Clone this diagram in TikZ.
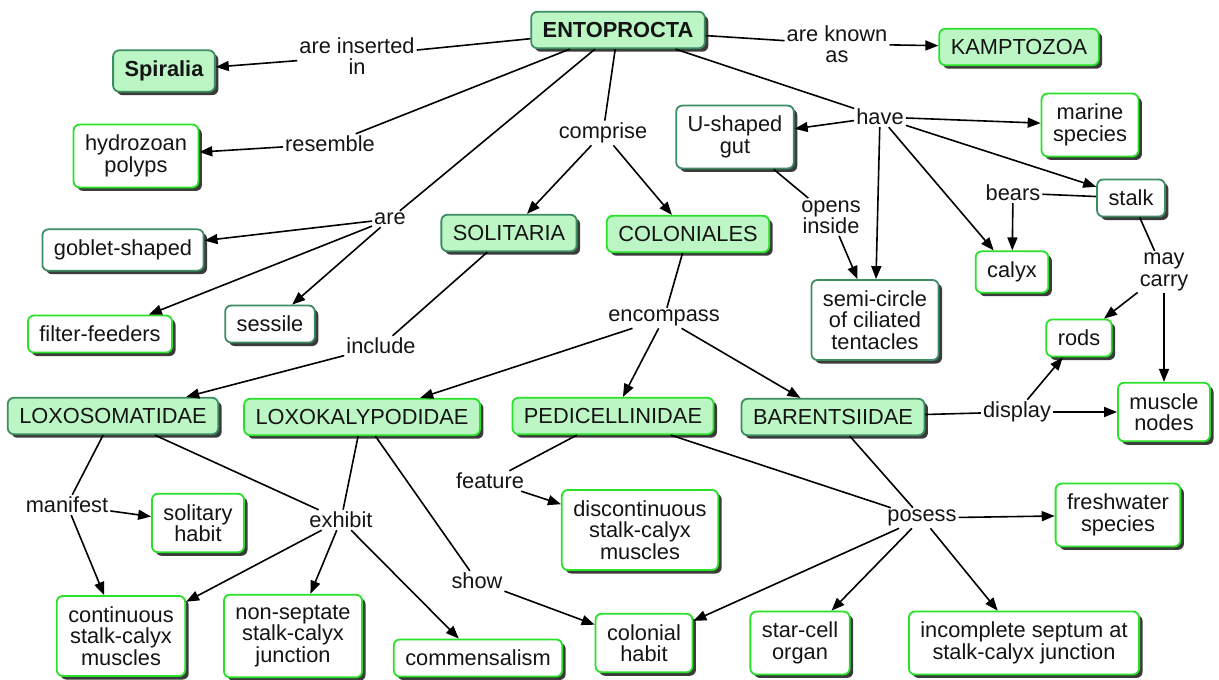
\documentclass[tikz,border=0pt]{standalone}
\usepackage{fontspec}
\setmainfont{Liberation Sans}
\usetikzlibrary{shadows,arrows.meta}
\definecolor{cfill}{RGB}{188,246,196}
\definecolor{cdark}{RGB}{60,140,100}
\definecolor{cbright}{RGB}{40,225,40}
\definecolor{ctext}{RGB}{20,20,20}
\newcommand{\mapfont}{\fontsize{21.8}{21.5}\selectfont}
\tikzset{
  base/.style={rounded corners=6pt, line width=1.8pt, inner xsep=11.5pt, inner ysep=10.5pt,
    align=center, font=\mapfont, text=ctext,
    drop shadow={shadow xshift=3.5pt, shadow yshift=-3.5pt, fill=black!85, opacity=0.9}},
  gfd/.style={base, fill=cfill, draw=cdark},
  gfb/.style={base, fill=cfill, draw=cbright},
  wb/.style={base, fill=white, draw=cbright},
  wd/.style={base, fill=white, draw=cdark},
  lab/.style={inner sep=2pt, align=center, font=\mapfont, text=ctext},
  arr/.style={-{Triangle[length=13pt,width=10pt]}, line width=1.6pt},
  ln/.style={line width=1.6pt}
}
\begin{document}
\begin{tikzpicture}[x=1pt,y=-1pt]
\useasboundingbox (0,0) rectangle (1219,680);
% concepts
\node[gfd,font=\mapfont\bfseries] (ento) at (618,30) {ENTOPROCTA};
\node[gfd,font=\mapfont\bfseries] (spir) at (164,71) {Spiralia};
\node[gfb] (kamp) at (1019,47) {KAMPTOZOA};
\node[wb] (hydro) at (136,156) {hydrozoan\\polyps};
\node[wd] (gut) at (735,137) {U-shaped\\gut};
\node[wb] (marine) at (1090,125) {marine\\species};
\node[wd] (stalk) at (1131,198) {stalk};
\node[wb] (calyx) at (1012,272) {calyx};
\node[wd] (goblet) at (123,250) {goblet-shaped};
\node[gfd] (soli) at (509,233) {SOLITARIA};
\node[gfb] (colo) at (688,234) {COLONIALES};
\node[wd] (semi) at (875,320) {semi-circle\\of ciliated\\tentacles};
\node[wb] (filter) at (100,334) {filter-feeders};
\node[wd] (sessile) at (270,324) {sessile};
\node[wb] (rods) at (1079,338) {rods};
\node[wb] (mnodes) at (1164,412) {muscle\\nodes};
\node[gfd] (loxo) at (113,416) {LOXOSOMATIDAE};
\node[gfb] (loxk) at (362,417) {LOXOKALYPODIDAE};
\node[gfb] (pedi) at (613,416) {PEDICELLINIDAE};
\node[gfd] (bare) at (833,417) {BARENTSIIDAE};
\node[wb] (solhab) at (198,523) {solitary\\habit};
\node[wb] (disc) at (640,530) {discontinuous\\stalk-calyx\\muscles};
\node[wb] (fresh) at (1118,515) {freshwater\\species};
\node[wb] (cont) at (121,636) {continuous\\stalk-calyx\\muscles};
\node[wb] (nonsep) at (293,636) {non-septate\\stalk-calyx\\junction};
\node[wb] (comm) at (478,658) {commensalism};
\node[wb] (colhab) at (644,643) {colonial\\habit};
\node[wb] (star) at (800,643) {star-cell\\organ};
\node[wb] (incomp) at (1024,643) {incomplete septum at\\stalk-calyx junction};
% linking phrases
\node[lab] (lins) at (357,56) {are inserted\\in};
\node[lab] (lknown) at (837,44) {are known\\as};
\node[lab] (lres) at (330,144) {resemble};
\node[lab] (lcomp) at (603,133) {comprise};
\node[lab] (lhave) at (880,117) {have};
\node[lab] (lare) at (390,219) {are};
\node[lab] (lbears) at (1013,193) {bears};
\node[lab] (lopens) at (831,217) {opens\\inside};
\node[lab] (lmay) at (1164,272) {may\\carry};
\node[lab] (lenc) at (664,318) {encompass};
\node[lab] (linc) at (381,346) {include};
\node[lab] (ldisp) at (1017,412) {display};
\node[lab] (lman) at (67,505) {manifest};
\node[lab] (lexh) at (341,520) {exhibit};
\node[lab] (lfeat) at (490,481) {feature};
\node[lab] (lpos) at (922,518) {posess};
\node[lab] (lshow) at (477,581) {show};
% connectors
\draw[ln] (ento) -- (lins); \draw[arr] (lins) -- (spir);
\draw[ln] (ento) -- (lknown); \draw[arr] (lknown) -- (kamp);
\draw[ln] (ento) -- (lres); \draw[arr] (lres) -- (hydro);
\draw[ln] (ento) -- (lcomp); \draw[arr] (lcomp) -- (soli); \draw[arr] (lcomp) -- (colo);
\draw[ln] (ento) -- (lhave);
\draw[arr] (lhave) -- (gut); \draw[arr] (lhave) -- (marine); \draw[arr] (lhave) -- (stalk);
\draw[arr] (lhave) -- (calyx); \draw[arr] (lhave) -- (semi);
\draw[ln] (ento) -- (lare);
\draw[arr] (lare) -- (goblet); \draw[arr] (lare) -- (filter); \draw[arr] (lare) -- (sessile);
\draw[ln] (stalk) -- (lbears); \draw[arr] (lbears) -- (calyx);
\draw[ln] (gut) -- (lopens); \draw[arr] (lopens) -- (semi);
\draw[ln] (stalk) -- (lmay); \draw[arr] (lmay) -- (rods); \draw[arr] (lmay) -- (mnodes);
\draw[ln] (colo) -- (lenc);
\draw[arr] (lenc) -- (loxk); \draw[arr] (lenc) -- (pedi); \draw[arr] (lenc) -- (bare);
\draw[ln] (soli) -- (linc); \draw[arr] (linc) -- (loxo);
\draw[ln] (bare) -- (ldisp); \draw[arr] (ldisp) -- (rods); \draw[arr] (ldisp) -- (mnodes);
\draw[ln] (loxo) -- (lman); \draw[arr] (lman) -- (solhab); \draw[arr] (lman) -- (cont);
\draw[ln] (loxo) -- (lexh); \draw[ln] (loxk) -- (lexh);
\draw[arr] (lexh) -- (cont); \draw[arr] (lexh) -- (nonsep); \draw[arr] (lexh) -- (comm);
\draw[ln] (pedi) -- (lfeat); \draw[arr] (lfeat) -- (disc);
\draw[ln] (loxk) -- (lshow); \draw[arr] (lshow) -- (colhab);
\draw[ln] (pedi) -- (lpos); \draw[ln] (bare) -- (lpos);
\draw[arr] (lpos) -- (fresh); \draw[arr] (lpos) -- (colhab); \draw[arr] (lpos) -- (star); \draw[arr] (lpos) -- (incomp);
\end{tikzpicture}
\end{document}
